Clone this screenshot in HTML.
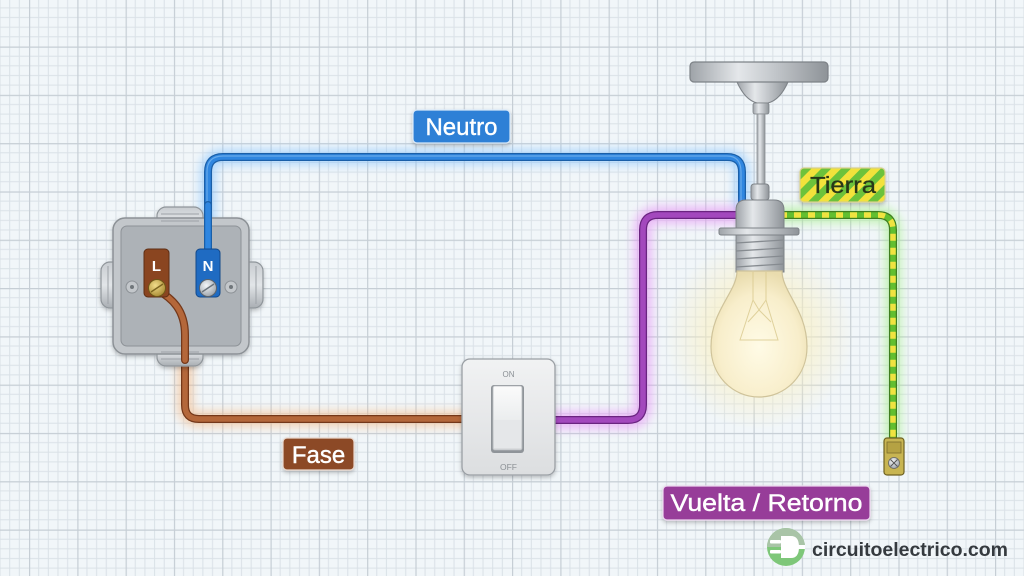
<!DOCTYPE html>
<html><head><meta charset="utf-8">
<style>
html,body{margin:0;padding:0;background:#eef4f8;}
svg{display:block;}
text{font-family:"Liberation Sans",sans-serif;}
</style></head>
<body>
<svg width="1024" height="576" viewBox="0 0 1024 576" xmlns="http://www.w3.org/2000/svg">
<defs>
  <pattern id="grid" width="48.3" height="48.3" patternUnits="userSpaceOnUse" patternTransform="translate(29,46.5)">
    <rect width="48.3" height="48.3" fill="#f1f6f9"/>
    <g stroke="#dae1e7" stroke-width="1">
      <line x1="9.66" y1="0" x2="9.66" y2="48.3"/>
      <line x1="19.32" y1="0" x2="19.32" y2="48.3"/>
      <line x1="28.98" y1="0" x2="28.98" y2="48.3"/>
      <line x1="38.64" y1="0" x2="38.64" y2="48.3"/>
      <line y1="9.66" x1="0" y2="9.66" x2="48.3"/>
      <line y1="19.32" x1="0" y2="19.32" x2="48.3"/>
      <line y1="28.98" x1="0" y2="28.98" x2="48.3"/>
      <line y1="38.64" x1="0" y2="38.64" x2="48.3"/>
    </g>
    <g stroke="#c6ced5" stroke-width="1.4">
      <line x1="0.5" y1="0" x2="0.5" y2="48.3"/>
      <line y1="0.5" x1="0" y2="0.5" x2="48.3"/>
    </g>
  </pattern>
  <filter id="blur6" x="-50%" y="-50%" width="200%" height="200%"><feGaussianBlur stdDeviation="5"/></filter>
  <filter id="blur3" x="-50%" y="-50%" width="200%" height="200%"><feGaussianBlur stdDeviation="2"/></filter>
  <filter id="shadow" x="-20%" y="-20%" width="140%" height="140%"><feDropShadow dx="0" dy="2" stdDeviation="2" flood-color="#000" flood-opacity="0.25"/></filter>
  <radialGradient id="glow" cx="0.5" cy="0.5" r="0.5">
    <stop offset="0" stop-color="#fff6c8" stop-opacity="0.95"/>
    <stop offset="0.55" stop-color="#fbf0c0" stop-opacity="0.55"/>
    <stop offset="1" stop-color="#fbf0c0" stop-opacity="0"/>
  </radialGradient>
  <radialGradient id="bulbg" cx="0.5" cy="0.6" r="0.6">
    <stop offset="0" stop-color="#fffbe6"/>
    <stop offset="0.7" stop-color="#f8eecb"/>
    <stop offset="1" stop-color="#e9dcae"/>
  </radialGradient>
  <linearGradient id="metal" x1="0" y1="0" x2="1" y2="0">
    <stop offset="0" stop-color="#9ea3a8"/>
    <stop offset="0.35" stop-color="#e4e7ea"/>
    <stop offset="0.6" stop-color="#c4c8cc"/>
    <stop offset="1" stop-color="#8e9398"/>
  </linearGradient>
  <linearGradient id="plate" x1="0" y1="0" x2="0" y2="1">
    <stop offset="0" stop-color="#c8ccd0"/>
    <stop offset="0.5" stop-color="#e2e5e8"/>
    <stop offset="1" stop-color="#a9aeb3"/>
  </linearGradient>
  <linearGradient id="sw" x1="0" y1="0" x2="0" y2="1">
    <stop offset="0" stop-color="#f1f2f3"/>
    <stop offset="1" stop-color="#dcdee0"/>
  </linearGradient>
  <linearGradient id="rock" x1="0" y1="0" x2="0" y2="1">
    <stop offset="0" stop-color="#fbfbfb"/>
    <stop offset="0.5" stop-color="#eceeef"/>
    <stop offset="1" stop-color="#d9dbdd"/>
  </linearGradient>
  <pattern id="stripes" width="14" height="14" patternUnits="userSpaceOnUse" patternTransform="rotate(45)">
    <rect width="14" height="14" fill="#f2e23a"/>
    <rect width="7" height="14" fill="#6cc23a"/>
  </pattern>
  <radialGradient id="brass" cx="0.4" cy="0.35" r="0.7">
    <stop offset="0" stop-color="#f1dc8a"/>
    <stop offset="1" stop-color="#a88a32"/>
  </radialGradient>
  <radialGradient id="silver" cx="0.4" cy="0.35" r="0.7">
    <stop offset="0" stop-color="#f4f6f8"/>
    <stop offset="1" stop-color="#9aa1a8"/>
  </radialGradient>
</defs>

<rect width="1024" height="576" fill="url(#grid)"/>

<!-- bulb glow -->
<circle cx="759" cy="335" r="95" fill="url(#glow)"/>

<!-- ===== Wires ===== -->
<!-- Neutral (blue) -->
<g fill="none" stroke-linecap="round" stroke-linejoin="round">
  <path d="M208,250 L208,172 Q208,157 223,157 L727,157 Q742,157 742,172 L742,205" stroke="#7ec0ff" stroke-width="16" opacity="0.55" filter="url(#blur6)"/>
  <path d="M208,250 L208,172 Q208,157 223,157 L727,157 Q742,157 742,172 L742,205" stroke="#1a5fa8" stroke-width="8"/>
  <path d="M208,250 L208,172 Q208,157 223,157 L727,157 Q742,157 742,172 L742,205" stroke="#2f86e0" stroke-width="5.5"/>
  <path d="M207,250 L207,172 Q207,156 223,156 L727,156 Q741,156 741,172 L741,205" stroke="#7db9f0" stroke-width="1.2" opacity="0.7"/>

  <!-- Purple (return) -->
  <path d="M555,420 L628,420 Q643,420 643,405 L643,230 Q643,215 658,215 L742,215" stroke="#e58af5" stroke-width="18" opacity="0.55" filter="url(#blur6)"/>
  <path d="M555,420 L628,420 Q643,420 643,405 L643,230 Q643,215 658,215 L742,215" stroke="#6a2480" stroke-width="8"/>
  <path d="M555,420 L628,420 Q643,420 643,405 L643,230 Q643,215 658,215 L742,215" stroke="#a348bd" stroke-width="5.5"/>

  <!-- Phase (brown) -->
  <path d="M157,290 C172,298 185,310 185,335 L185,405 Q185,419 199,419 L464,419" stroke="#f5b37a" stroke-width="16" opacity="0.55" filter="url(#blur6)"/>
  <path d="M157,290 C172,298 185,310 185,335 L185,405 Q185,419 199,419 L464,419" stroke="#74381a" stroke-width="8"/>
  <path d="M157,290 C172,298 185,310 185,335 L185,405 Q185,419 199,419 L464,419" stroke="#b4673a" stroke-width="5.5"/>

  <!-- Earth (green/yellow) -->
  <path d="M780,215 L878,215 Q893,215 893,230 L893,440" stroke="#9cf07a" stroke-width="16" opacity="0.55" filter="url(#blur6)"/>
  <path d="M780,215 L878,215 Q893,215 893,230 L893,440" stroke="#3f7d1f" stroke-width="8"/>
  <path d="M780,215 L878,215 Q893,215 893,230 L893,440" stroke="#62bf30" stroke-width="5.5"/>
  <path d="M780,215 L878,215 Q893,215 893,230 L893,440" stroke="#f0e340" stroke-width="5.5" stroke-dasharray="7 7" stroke-linecap="butt"/>
</g>

<!-- earth terminal -->
<rect x="884" y="438" width="20" height="37" rx="3" fill="#c8b552" stroke="#6f6222" stroke-width="1.2"/>
<rect x="887" y="442" width="14" height="11" fill="#b5a243" stroke="#7c6e2c" stroke-width="0.8"/>
<circle cx="894" cy="463" r="5.5" fill="url(#silver)" stroke="#666" stroke-width="0.8"/>
<line x1="890.5" y1="466.5" x2="897.5" y2="459.5" stroke="#555" stroke-width="1"/>
<line x1="890.5" y1="459.5" x2="897.5" y2="466.5" stroke="#555" stroke-width="1"/>

<!-- ===== Junction box ===== -->
<g filter="url(#shadow)">
  <!-- glands -->
  <rect x="157" y="207" width="46" height="28" rx="9" fill="url(#plate)" stroke="#8f959a" stroke-width="1.2"/>
  <rect x="101" y="262" width="26" height="46" rx="9" fill="url(#plate)" stroke="#8f959a" stroke-width="1.2"/>
  <rect x="237" y="262" width="26" height="46" rx="9" fill="url(#plate)" stroke="#8f959a" stroke-width="1.2"/>
  <rect x="157" y="338" width="46" height="28" rx="9" fill="url(#plate)" stroke="#8f959a" stroke-width="1.2"/>
  <rect x="113" y="218" width="136" height="136" rx="12" fill="#c3c7cb" stroke="#8c9196" stroke-width="1.5"/>
</g>
<g stroke="#9da2a7" stroke-width="1" fill="none">
  <line x1="161" y1="214" x2="199" y2="214"/><line x1="161" y1="221" x2="199" y2="221"/>
  <line x1="161" y1="352" x2="199" y2="352"/><line x1="161" y1="359" x2="199" y2="359"/>
  <line x1="108" y1="266" x2="108" y2="304"/><line x1="256" y1="266" x2="256" y2="304"/>
</g>
<rect x="121" y="226" width="120" height="120" rx="6" fill="#adb2b7" stroke="#8d9297" stroke-width="1"/>
<!-- ear tabs -->
<circle cx="132" cy="287" r="6" fill="#c3c7cb" stroke="#8d9297"/><circle cx="132" cy="287" r="2" fill="#70767b"/>
<circle cx="231" cy="287" r="6" fill="#c3c7cb" stroke="#8d9297"/><circle cx="231" cy="287" r="2" fill="#70767b"/>

<!-- re-draw wires inside box on top -->
<g fill="none" stroke-linecap="round">
  <path d="M157,290 C172,298 185,310 185,335 L185,360" stroke="#74381a" stroke-width="8"/>
  <path d="M157,290 C172,298 185,310 185,335 L185,360" stroke="#b4673a" stroke-width="5.5"/>
  <path d="M208,250 L208,205" stroke="#1a5fa8" stroke-width="8"/>
  <path d="M208,250 L208,205" stroke="#2f86e0" stroke-width="5.5"/>
</g>

<!-- terminals -->
<rect x="144" y="249" width="25" height="48" rx="4" fill="#8a4520" stroke="#5e2e14" stroke-width="1"/>
<text x="156.5" y="271" font-size="15" font-weight="bold" fill="#fff" text-anchor="middle">L</text>
<circle cx="157" cy="288" r="8.5" fill="url(#brass)" stroke="#6e5718" stroke-width="1"/>
<line x1="151" y1="292" x2="163" y2="284" stroke="#7c6520" stroke-width="1.4"/>
<rect x="196" y="249" width="24" height="48" rx="4" fill="#1f6bc2" stroke="#14498a" stroke-width="1"/>
<text x="208" y="271" font-size="15" font-weight="bold" fill="#fff" text-anchor="middle">N</text>
<circle cx="208" cy="288" r="8.5" fill="url(#silver)" stroke="#5c646c" stroke-width="1"/>
<line x1="202" y1="292" x2="214" y2="284" stroke="#6b737b" stroke-width="1.4"/>

<!-- ===== Switch ===== -->
<g filter="url(#shadow)">
  <rect x="462" y="359" width="93" height="116" rx="8" fill="url(#sw)" stroke="#9a9fa4" stroke-width="1.3"/>
</g>
<text x="508.5" y="377" font-size="8" fill="#8b9095" text-anchor="middle">ON</text>
<rect x="491" y="385" width="33" height="68" rx="3" fill="#8f9499"/>
<rect x="493" y="386" width="29" height="64" rx="2" fill="url(#rock)" stroke="#b7bbbf" stroke-width="0.8"/>
<rect x="494" y="420" width="27" height="28" fill="#e5e7e9"/>
<text x="508.5" y="470" font-size="8.5" fill="#8b9095" text-anchor="middle">OFF</text>

<!-- ===== Lamp ===== -->
<!-- ceiling rose -->
<path d="M737,82 Q745,100 757,103 L768,103 Q780,100 788,82 Z" fill="url(#metal)" stroke="#7d8287" stroke-width="1"/>
<rect x="690" y="62" width="138" height="20" rx="4" fill="url(#metal)" stroke="#7d8287" stroke-width="1.2"/>
<rect x="753" y="103" width="16" height="11" rx="2" fill="url(#metal)" stroke="#7d8287" stroke-width="0.8"/>
<rect x="757" y="114" width="8" height="72" fill="url(#metal)" stroke="#8a8f94" stroke-width="0.8"/>
<!-- socket -->
<rect x="751" y="184" width="18" height="16" rx="3" fill="url(#metal)" stroke="#7d8287" stroke-width="1"/>
<path d="M736,228 L736,210 Q736,200 746,200 L774,200 Q784,200 784,210 L784,228 Z" fill="url(#metal)" stroke="#7d8287" stroke-width="1"/>
<rect x="719" y="228" width="80" height="7" rx="2" fill="url(#metal)" stroke="#7d8287" stroke-width="1"/>
<rect x="736" y="235" width="48" height="37" fill="url(#metal)" stroke="#7d8287" stroke-width="1"/>
<g stroke="#868b90" stroke-width="1.3">
  <line x1="736" y1="243" x2="784" y2="240"/>
  <line x1="736" y1="251" x2="784" y2="248"/>
  <line x1="736" y1="259" x2="784" y2="256"/>
  <line x1="736" y1="267" x2="784" y2="264"/>
</g>
<!-- bulb -->
<path d="M737,271 C737,292 711,310 711,347 C711,376 733,397 759,397 C785,397 807,376 807,347 C807,310 782,292 782,271 Z" fill="url(#bulbg)" stroke="#cfc39a" stroke-width="1.2"/>
<g stroke="#d9c98e" stroke-width="1" fill="none" opacity="0.8">
  <path d="M753,272 L753,300 L740,340 L778,340 L766,300 L766,272"/>
  <path d="M753,300 L759,310 L766,300"/>
  <path d="M748,322 L759,310 L771,322"/>
</g>

<!-- ===== Labels ===== -->
<g filter="url(#shadow)">
  <rect x="413" y="110" width="97" height="33" rx="4" fill="#2e80d6" stroke="#d8e8f8" stroke-width="1.2"/>
  <rect x="283" y="438" width="71" height="32" rx="4" fill="#8c4a27" stroke="#e8d6cc" stroke-width="1.2"/>
  <rect x="663" y="486" width="207" height="34" rx="4" fill="#973c99" stroke="#ecd6ee" stroke-width="1.2"/>
  <rect x="800" y="168" width="85" height="34" rx="4" fill="url(#stripes)" stroke="#d7d08a" stroke-width="1.2"/>
</g>
<text x="461.5" y="135" font-size="24" fill="#fff" text-anchor="middle" stroke="#fff" stroke-width="0.4">Neutro</text>
<text x="318.5" y="463" font-size="24" fill="#fff" text-anchor="middle" stroke="#fff" stroke-width="0.4">Fase</text>
<text x="766.5" y="511" font-size="24" fill="#fff" text-anchor="middle" stroke="#fff" stroke-width="0.4" textLength="192" lengthAdjust="spacingAndGlyphs">Vuelta / Retorno</text>
<text x="843" y="193" font-size="23" fill="#283818" text-anchor="middle" stroke="#283818" stroke-width="0.3" textLength="66" lengthAdjust="spacingAndGlyphs">Tierra</text>

<!-- ===== Watermark ===== -->
<circle cx="786" cy="547" r="19" fill="#7ec779"/>
<path d="M767,547 A19,19 0 0 1 805,547 Z" fill="#a9c4a7"/>
<g fill="#fff">
  <rect x="770" y="540" width="11" height="3.5" rx="1"/>
  <rect x="770" y="550" width="11" height="3.5" rx="1"/>
  <path d="M781,536 L791,536 Q799,536 799,547 Q799,558 791,558 L781,558 Z"/>
  <rect x="798" y="545" width="7" height="4"/>
</g>
<text x="812" y="556" font-size="19" font-weight="bold" fill="#353a3f" textLength="196" lengthAdjust="spacingAndGlyphs">circuitoelectrico.com</text>
</svg>
</body></html>
